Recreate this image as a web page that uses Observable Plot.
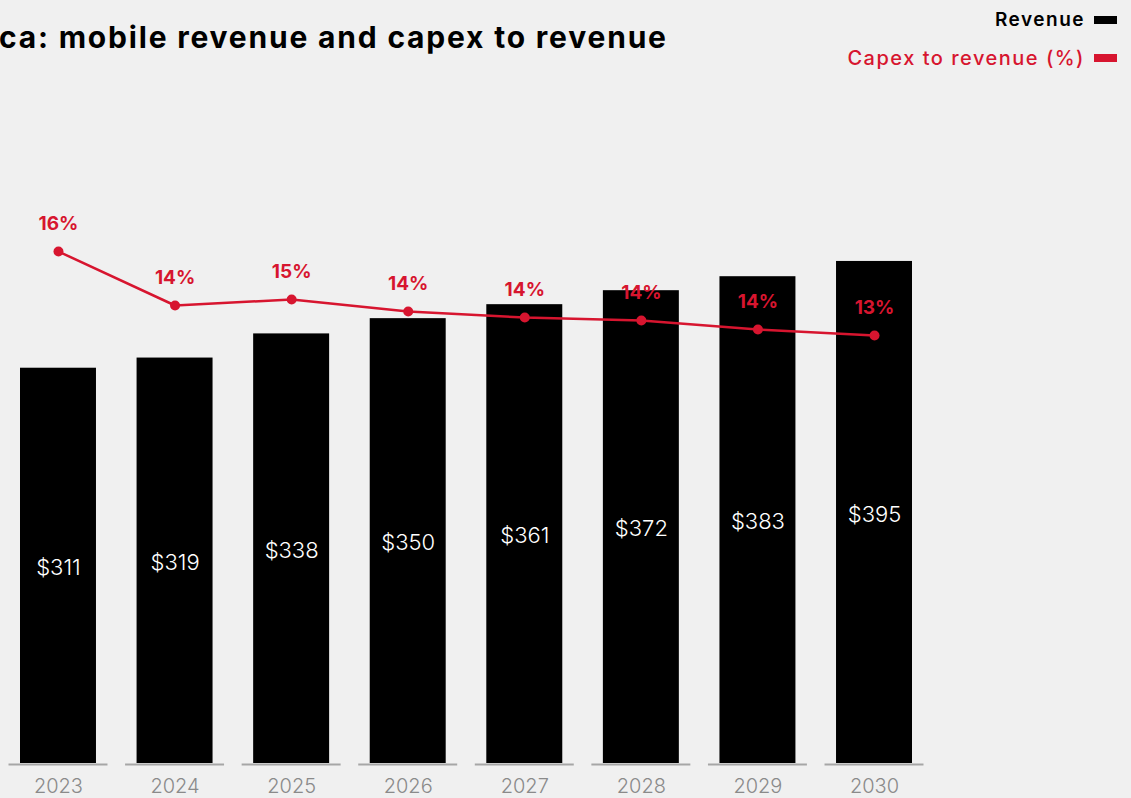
<!DOCTYPE html>
<html>
<head>
<meta charset="utf-8">
<script src="https://cdn.jsdelivr.net/npm/d3@7"></script>
<script src="https://cdn.jsdelivr.net/npm/@observablehq/plot@0.6"></script>
<style>
  html, body { margin: 0; padding: 0; background: #f0f0f0; overflow: hidden; }
  #wrap { position: relative; width: 1131px; height: 798px; font-family: Inter, "Noto Sans", sans-serif; }
  #title { position: absolute; left: -1px; top: 19px; font-size: 30px; font-weight: 700; color: #000; white-space: nowrap; letter-spacing: 1.8px; }
  .leg { position: absolute; right: 14px; display: flex; align-items: center; white-space: nowrap; letter-spacing: 1.5px; }
  .leg span.sw { display: inline-block; width: 23px; height: 8px; margin-left: 9px; }
  #leg1 { top: 8px; font-size: 19px; font-weight: 600; color: #000; }
  #leg2 { top: 46px; font-size: 20px; font-weight: 500; color: #d7152f; }
  #chart { position: absolute; left: 0; top: 0; }
</style>
</head>
<body>
<div id="wrap">
  <div id="chart"></div>
  <div id="title">ca: mobile revenue and capex to revenue</div>
  <div class="leg" id="leg1">Revenue<span class="sw" style="background:#000"></span></div>
  <div class="leg" id="leg2">Capex to revenue (%)<span class="sw" style="background:#d7152f"></span></div>
</div>
<script>
const years = ["2023", "2024", "2025", "2026", "2027", "2028", "2029", "2030"];
const revenue = [311, 319, 338, 350, 361, 372, 383, 395];
const capexPct = [16.2, 14.4, 14.6, 14.2, 14.0, 13.9, 13.6, 13.4];

const red = "#d7152f";
// secondary (percent) axis mapped onto the revenue axis
const pctScale = d3.scaleLinear().domain([0, 20]).range([20.5, 492.5]);

const data = years.map((y, i) => ({
  year: y,
  revenue: revenue[i],
  capex: capexPct[i],
  capexY: pctScale(capexPct[i])
}));

const plot = Plot.plot({
  width: 1131,
  height: 798,
  marginLeft: 8.5,
  marginRight: 207.5,
  marginTop: 127.5,
  marginBottom: 35,
  style: { background: "transparent", fontFamily: "Inter, 'Noto Sans', sans-serif" },
  x: { domain: years, paddingInner: 0.151, paddingOuter: 0, round: false, label: null },
  y: { domain: [0, 500], axis: null },
  marks: [
    Plot.barY(data, { x: "year", y: "revenue", fill: "#000", insetLeft: 11.5, insetRight: 11.5 }),
    Plot.tickY(data, { x: "year", y: 0, stroke: "#a6a6a6", strokeWidth: 2, dy: 1 }),
    Plot.text(data, {
      x: "year", y: d => d.revenue / 2, text: d => "$" + d.revenue,
      fill: "#fff", fontSize: 22, fontWeight: 300, dy: 2
    }),
    Plot.line(data, { x: "year", y: "capexY", stroke: red, strokeWidth: 2.5 }),
    Plot.dot(data, { x: "year", y: "capexY", fill: red, r: 5 }),
    Plot.text(data, {
      x: "year", y: "capexY", text: d => Math.round(d.capex) + "%",
      fill: red, fontSize: 19, fontWeight: 700, dy: -28
    }),
    Plot.axisX({ tickSize: 0, tickPadding: 15, fontSize: 20, fontWeight: 300, color: "#8a8a8a" })
  ]
});
document.getElementById("chart").appendChild(plot);
</script>
</body>
</html>
